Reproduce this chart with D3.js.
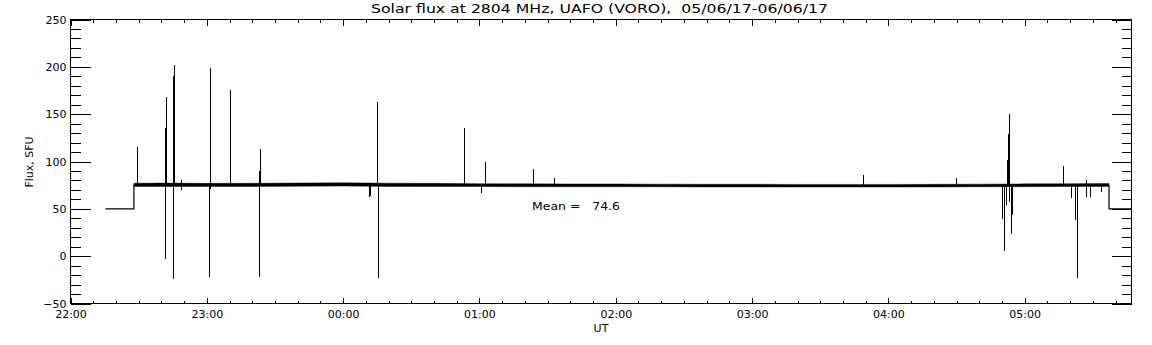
<!DOCTYPE html>
<html>
<head>
<meta charset="utf-8">
<script src="https://cdn.jsdelivr.net/npm/d3@7"></script>
<style>
  body { margin: 0; background: #fff; }
  svg { display: block; }
  text { font-family: "DejaVu Sans", sans-serif; fill: #000; }
</style>
</head>
<body>
<svg id="chart" width="1152" height="345"></svg>
<script>
// time is in minutes after 22:00 UT
var hourTicks = [0, 60, 120, 180, 240, 300, 360, 420];
var hourLabels = ["22:00", "23:00", "00:00", "01:00", "02:00", "03:00", "04:00", "05:00"];
var fluxTicks = [-50, 0, 50, 100, 150, 200, 250];

// quiet level before and after the observing run
var idleStart = [[15.4, 50], [27.9, 50]];
var idleEnd = [[457.1, 50], [467, 50]];

// the noisy band of the record: time, low, high
var bandTime = [27.9, 40, 60, 80, 100, 120, 140, 160, 180, 200, 220, 240, 260, 280, 300, 320, 340, 360, 380, 400, 420, 440, 457.1];
var bandLow  = [73.6, 73.6, 73.5, 73.6, 73.8, 74.0, 73.7, 73.6, 73.5, 73.4, 73.3, 73.3, 73.2, 73.1, 73.1, 73.0, 73.0, 73.0, 73.1, 73.3, 73.4, 73.6, 73.7];
var bandHigh = [77.0, 77.2, 76.9, 77.0, 77.3, 77.6, 77.1, 76.9, 76.6, 76.5, 76.3, 76.3, 76.1, 76.0, 76.0, 75.8, 75.8, 75.8, 75.9, 76.1, 76.4, 76.6, 76.8];

// spikes: time, peak flux (from the band level)
var spikeTime = [29.4, 41.6, 41.7, 42.0, 45.1, 45.1, 45.5, 48.5, 48.6, 60.9, 61.4, 61.5, 70.2, 83.1, 83.1, 83.6,
  131.4, 131.9, 134.9, 135.0, 135.4, 173.3, 180.7, 182.5, 203.7, 212.9, 349.0, 389.6,
  409.8, 410.7, 411.6, 412.0, 412.5, 412.9, 413.0, 413.3, 413.8, 414.3,
  436.7, 440.2, 442.0, 442.9, 446.8, 447.1, 448.6, 453.6];
var spikeFlux = [115, -3, 135, 168, 190, -24, 202, 80, 70, -22, 199, 71, 176, 90, -22, 113,
  62, 64, 163, 85.5, -23, 135, 67, 99, 92, 83, 86, 82.6,
  39, 5, 54, 102, 129, 150, 57, 116, 23, 44,
  95, 61, 38, -23, 80.5, 63, 62, 68];

var meanFlux = 74.6;

var svg = d3.select("#chart");
var pLeft = 70.5, pRight = 1131.5, pTop = 19.5, pBottom = 303.5;

var x = d3.scaleLinear().domain([0, 467]).range([pLeft, pRight]);
var y = d3.scaleLinear().domain([-50, 250]).range([pBottom, pTop]);

function levelAt(t) {
    var i = d3.bisectLeft(bandTime, t);
    i = Math.max(0, Math.min(bandTime.length - 1, i));
    return (bandLow[i] + bandHigh[i]) / 2;
}

// frame
svg.append("rect")
    .attr("x", pLeft).attr("y", pTop)
    .attr("width", pRight - pLeft).attr("height", pBottom - pTop)
    .attr("fill", "none").attr("stroke", "#000").attr("stroke-width", 1);

function styleAxis(g) {
    g.select(".domain").remove();
    g.selectAll("line").attr("stroke", "#000").attr("shape-rendering", "crispEdges");
    g.selectAll("text").attr("font-size", 11).attr("font-family", "DejaVu Sans, sans-serif").attr("fill", "#000");
}

// y axes, ticks inward
svg.append("g").attr("transform", "translate(" + pLeft + ",0)")
    .call(d3.axisLeft(y).tickValues(d3.range(-50, 251, 10)).tickSize(-10).tickFormat(""))
    .call(styleAxis);
svg.append("g").attr("transform", "translate(" + pLeft + ",0)")
    .call(d3.axisLeft(y).tickValues(fluxTicks).tickSize(-20).tickPadding(4))
    .call(styleAxis);
svg.append("g").attr("transform", "translate(" + pRight + ",0)")
    .call(d3.axisRight(y).tickValues(d3.range(-50, 251, 10)).tickSize(-10).tickFormat(""))
    .call(styleAxis);
svg.append("g").attr("transform", "translate(" + pRight + ",0)")
    .call(d3.axisRight(y).tickValues(fluxTicks).tickSize(-20).tickFormat(""))
    .call(styleAxis);

// x axes, ticks inward
svg.append("g").attr("transform", "translate(0," + pBottom + ")")
    .call(d3.axisBottom(x).tickValues(d3.range(0, 467, 10)).tickSize(-3).tickFormat(""))
    .call(styleAxis);
svg.append("g").attr("transform", "translate(0," + pBottom + ")")
    .call(d3.axisBottom(x).tickValues(hourTicks).tickSize(-6).tickPadding(7)
        .tickFormat(function (d, i) { return hourLabels[i]; }))
    .call(styleAxis);
svg.append("g").attr("transform", "translate(0," + pTop + ")")
    .call(d3.axisTop(x).tickValues(d3.range(0, 467, 10)).tickSize(-3).tickFormat(""))
    .call(styleAxis);
svg.append("g").attr("transform", "translate(0," + pTop + ")")
    .call(d3.axisTop(x).tickValues(hourTicks).tickSize(-6).tickFormat(""))
    .call(styleAxis);

// data
var line = d3.line().x(function (d) { return x(d[0]); }).y(function (d) { return y(d[1]); });
var band = bandTime.map(function (t, i) { return [t, bandLow[i], bandHigh[i]]; });

svg.append("path")
    .attr("d", line(idleStart.concat([[27.9, levelAt(27.9)]])))
    .attr("fill", "none").attr("stroke", "#000").attr("stroke-width", 1.2);
svg.append("path")
    .attr("d", line([[457.1, levelAt(457.1)]].concat(idleEnd)))
    .attr("fill", "none").attr("stroke", "#000").attr("stroke-width", 1.2);

svg.append("path")
    .datum(band)
    .attr("d", d3.area()
        .x(function (d) { return x(d[0]); })
        .y0(function (d) { return y(d[1]); })
        .y1(function (d) { return y(d[2]); }))
    .attr("fill", "#000").attr("stroke", "#000").attr("stroke-width", 0.4);

svg.append("g").selectAll("line")
    .data(spikeTime)
    .join("line")
    .attr("x1", function (d) { return Math.round(x(d)) + 0.5; })
    .attr("x2", function (d) { return Math.round(x(d)) + 0.5; })
    .attr("y1", function (d) { return y(levelAt(d)); })
    .attr("y2", function (d, i) { return y(spikeFlux[i]); })
    .attr("stroke", "#000").attr("stroke-width", 1)
    .attr("shape-rendering", "crispEdges");

// texts
svg.append("text")
    .attr("x", 599.5).attr("y", 13)
    .attr("text-anchor", "middle").attr("font-size", 12)
    .attr("textLength", 457).attr("lengthAdjust", "spacingAndGlyphs")
    .attr("xml:space", "preserve")
    .text("Solar flux at 2804 MHz, UAFO (VORO),  05/06/17-06/06/17");

svg.append("text")
    .attr("transform", "translate(33,162) rotate(-90)")
    .attr("text-anchor", "middle").attr("font-size", 11)
    .text("Flux, SFU");

svg.append("text")
    .attr("x", 601).attr("y", 332)
    .attr("text-anchor", "middle").attr("font-size", 11)
    .text("UT");

svg.append("text")
    .attr("x", 532).attr("y", 210)
    .attr("font-size", 11)
    .attr("xml:space", "preserve")
    .attr("textLength", 88).attr("lengthAdjust", "spacingAndGlyphs")
    .text("Mean =   " + meanFlux.toFixed(1));
</script>
</body>
</html>
